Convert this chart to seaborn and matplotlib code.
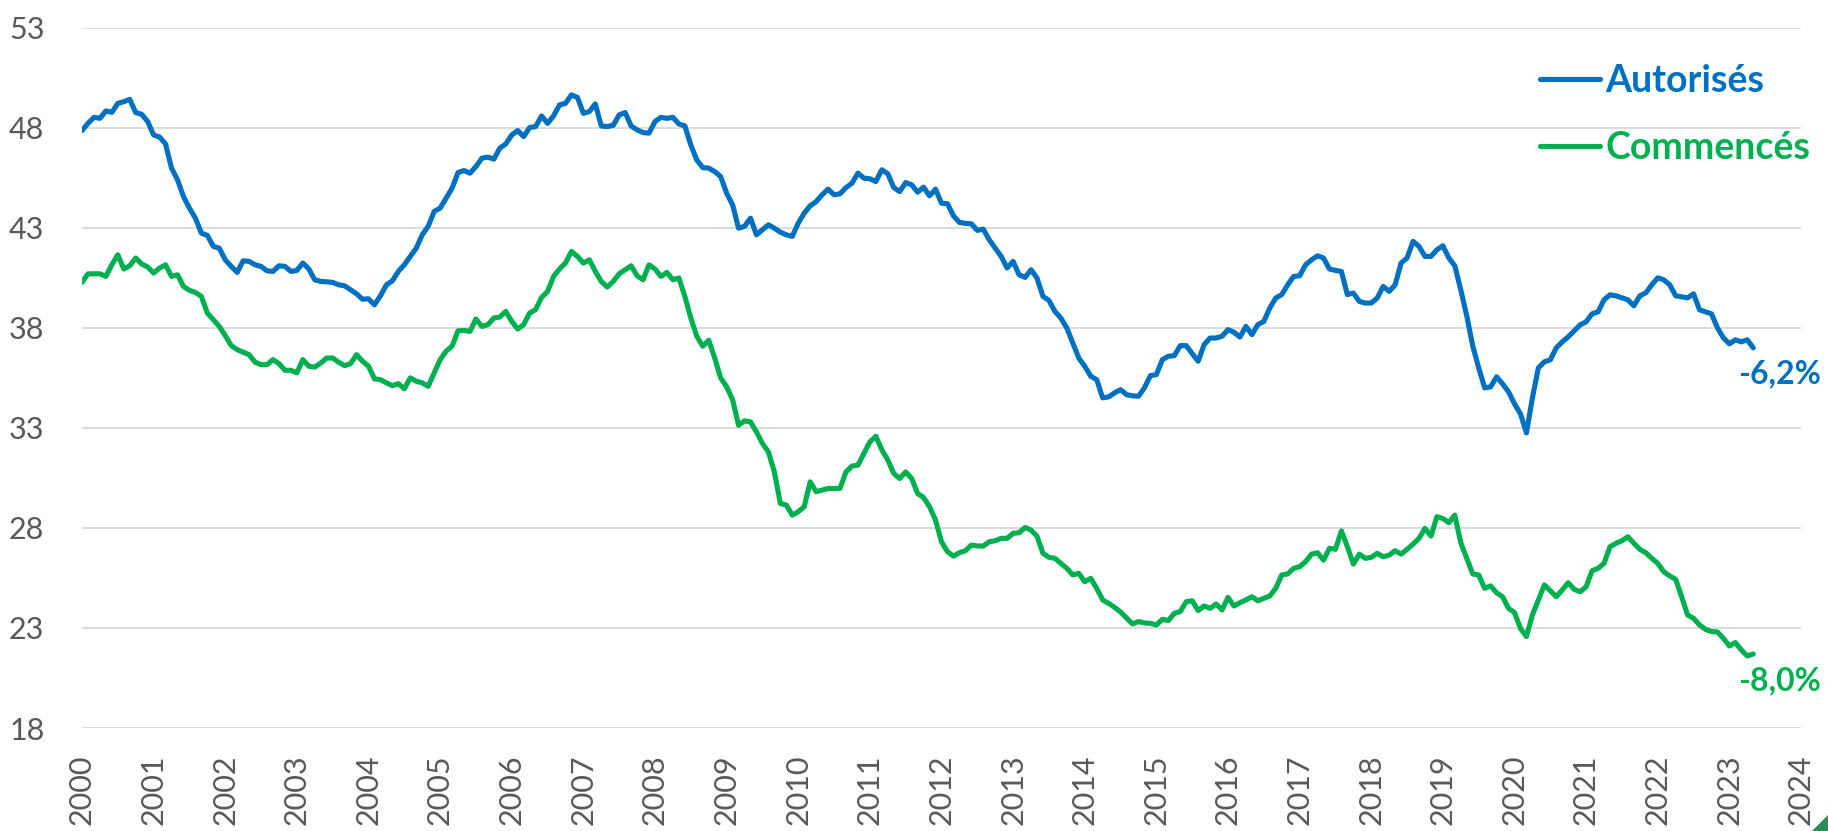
import numpy as np
import pandas as pd
import matplotlib.pyplot as plt
from matplotlib.patches import Polygon
import seaborn as sns

# séries mensuelles (jan. 2000 -> mai 2023), milliers de logements
series_names = ['Autorisés', 'Commencés']
series_colors = ['#0070C0', '#00B050']
change_labels = ['-6,2%', '-8,0%']
start_year = 2000
year_ticks = list(range(2000, 2025))
value_ticks = [18, 23, 28, 33, 38, 43, 48, 53]

autorises = [
    47.86, 48.22, 48.52, 48.47, 48.84, 48.77, 49.22, 49.30, 49.42, 48.76, 48.67, 48.31,  # 2000
    47.64, 47.53, 47.19, 45.98, 45.40, 44.56, 43.98, 43.48, 42.73, 42.62, 42.07, 41.98,  # 2001
    41.40, 41.07, 40.77, 41.35, 41.32, 41.15, 41.07, 40.85, 40.82, 41.10, 41.07, 40.82,  # 2002
    40.87, 41.24, 40.94, 40.40, 40.32, 40.30, 40.27, 40.15, 40.10, 39.90, 39.70, 39.43,  # 2003
    39.45, 39.15, 39.60, 40.15, 40.35, 40.82, 41.15, 41.57, 41.98, 42.65, 43.07, 43.82,  # 2004
    43.98, 44.48, 44.98, 45.76, 45.86, 45.73, 46.06, 46.48, 46.53, 46.43, 46.98, 47.19,  # 2005
    47.64, 47.86, 47.56, 48.01, 48.06, 48.59, 48.22, 48.59, 49.14, 49.22, 49.64, 49.52,  # 2006
    48.72, 48.81, 49.19, 48.09, 48.06, 48.12, 48.64, 48.76, 48.09, 47.89, 47.76, 47.73,  # 2007
    48.31, 48.52, 48.47, 48.52, 48.19, 48.09, 47.14, 46.39, 46.01, 45.98, 45.81, 45.56,  # 2008
    44.73, 44.15, 42.98, 43.07, 43.48, 42.65, 42.90, 43.15, 42.98, 42.78, 42.65, 42.57,  # 2009
    43.23, 43.73, 44.10, 44.31, 44.65, 44.93, 44.65, 44.70, 45.01, 45.23, 45.73, 45.48,  # 2010
    45.45, 45.31, 45.90, 45.70, 45.01, 44.81, 45.26, 45.15, 44.78, 45.03, 44.60, 44.93,  # 2011
    44.23, 44.20, 43.60, 43.27, 43.22, 43.20, 42.87, 42.93, 42.40, 41.98, 41.57, 40.99,  # 2012
    41.32, 40.65, 40.52, 40.90, 40.49, 39.57, 39.37, 38.82, 38.49, 37.99, 37.24, 36.49,  # 2013
    36.08, 35.58, 35.41, 34.50, 34.55, 34.75, 34.91, 34.66, 34.60, 34.58, 35.00, 35.61,  # 2014
    35.66, 36.41, 36.58, 36.61, 37.11, 37.11, 36.71, 36.33, 37.16, 37.49, 37.49, 37.58,  # 2015
    37.91, 37.78, 37.54, 38.07, 37.66, 38.16, 38.32, 38.99, 39.49, 39.66, 40.15, 40.57,  # 2016
    40.60, 41.15, 41.40, 41.60, 41.49, 40.94, 40.87, 40.82, 39.66, 39.74, 39.32, 39.24,  # 2017
    39.24, 39.49, 40.07, 39.82, 40.15, 41.24, 41.49, 42.32, 42.07, 41.57, 41.57, 41.90,  # 2018
    42.10, 41.49, 41.10, 39.90, 38.60, 37.10, 36.00, 35.00, 35.05, 35.55, 35.20, 34.80,  # 2019
    34.20, 33.70, 32.75, 34.50, 36.00, 36.30, 36.40, 37.00, 37.30, 37.55, 37.85, 38.15,  # 2020
    38.30, 38.70, 38.80, 39.40, 39.65, 39.60, 39.50, 39.40, 39.10, 39.60, 39.75, 40.15,  # 2021
    40.50, 40.40, 40.15, 39.60, 39.55, 39.50, 39.70, 38.90, 38.80, 38.70, 38.00, 37.50,  # 2022
    37.20, 37.40, 37.30, 37.40, 37.00,  # 2023
]

commences = [
    40.27, 40.70, 40.70, 40.70, 40.57, 41.15, 41.65, 40.94, 41.10, 41.49, 41.19, 41.04,  # 2000
    40.74, 40.99, 41.15, 40.57, 40.65, 40.07, 39.87, 39.77, 39.57, 38.74, 38.41, 38.07,  # 2001
    37.61, 37.11, 36.91, 36.78, 36.66, 36.28, 36.16, 36.16, 36.41, 36.21, 35.88, 35.88,  # 2002
    35.75, 36.41, 36.08, 36.04, 36.24, 36.49, 36.49, 36.28, 36.11, 36.21, 36.66, 36.33,  # 2003
    36.08, 35.45, 35.41, 35.25, 35.11, 35.21, 34.95, 35.50, 35.33, 35.25, 35.08, 35.75,  # 2004
    36.41, 36.83, 37.08, 37.85, 37.87, 37.82, 38.44, 38.07, 38.16, 38.49, 38.54, 38.82,  # 2005
    38.32, 37.94, 38.16, 38.74, 38.91, 39.52, 39.82, 40.57, 40.94, 41.24, 41.82, 41.57,  # 2006
    41.24, 41.40, 40.82, 40.32, 40.04, 40.32, 40.70, 40.90, 41.10, 40.60, 40.40, 41.15,  # 2007
    40.94, 40.57, 40.77, 40.40, 40.49, 39.57, 38.49, 37.58, 37.08, 37.38, 36.49, 35.50,  # 2008
    35.05, 34.41, 33.13, 33.35, 33.30, 32.80, 32.22, 31.80, 30.80, 29.22, 29.14, 28.64,  # 2009
    28.81, 29.06, 30.30, 29.81, 29.89, 29.97, 29.97, 29.98, 30.80, 31.09, 31.14, 31.72,  # 2010
    32.30, 32.58, 31.90, 31.40, 30.72, 30.47, 30.80, 30.47, 29.72, 29.52, 29.06, 28.39,  # 2011
    27.31, 26.81, 26.59, 26.76, 26.86, 27.14, 27.10, 27.09, 27.31, 27.36, 27.48, 27.48,  # 2012
    27.73, 27.76, 28.02, 27.89, 27.59, 26.73, 26.53, 26.48, 26.23, 25.98, 25.65, 25.73,  # 2013
    25.31, 25.48, 24.98, 24.40, 24.23, 24.03, 23.80, 23.50, 23.20, 23.32, 23.25, 23.23,  # 2014
    23.15, 23.43, 23.37, 23.73, 23.82, 24.31, 24.36, 23.87, 24.10, 23.98, 24.20, 23.90,  # 2015
    24.53, 24.10, 24.26, 24.40, 24.56, 24.36, 24.48, 24.60, 24.98, 25.65, 25.70, 25.98,  # 2016
    26.06, 26.31, 26.69, 26.76, 26.39, 26.98, 26.93, 27.85, 27.06, 26.19, 26.69, 26.48,  # 2017
    26.53, 26.73, 26.56, 26.64, 26.86, 26.69, 26.93, 27.19, 27.48, 27.98, 27.59, 28.56,  # 2018
    28.47, 28.26, 28.64, 27.26, 26.48, 25.70, 25.65, 24.98, 25.10, 24.76, 24.56, 23.98,  # 2019
    23.77, 22.98, 22.57, 23.65, 24.40, 25.15, 24.86, 24.56, 24.90, 25.26, 24.93, 24.81,  # 2020
    25.06, 25.86, 25.98, 26.23, 27.06, 27.23, 27.36, 27.56, 27.23, 26.93, 26.76, 26.48,  # 2021
    26.23, 25.81, 25.60, 25.43, 24.56, 23.65, 23.48, 23.15, 22.93, 22.82, 22.80, 22.48,  # 2022
    22.10, 22.27, 21.90, 21.60, 21.70,  # 2023
]

months = np.arange(len(autorises))
dates = start_year + months / 12
df = pd.DataFrame({
    'date': np.concatenate([dates, dates]),
    'value': autorises + commences,
    'serie': [series_names[0]] * len(autorises) + [series_names[1]] * len(commences),
})

sns.set_theme(style='white')
plt.rcParams['font.family'] = ['Lato', 'DejaVu Sans']

W, H = 1828, 831
fig = plt.figure(figsize=(W / 100, H / 100), dpi=100)
ax = fig.add_axes([82 / W, 1 - 728 / H, (1801 - 82) / W, (728 - 27.7) / H])

sns.lineplot(data=df, x='date', y='value', hue='serie', hue_order=series_names,
             palette=series_colors, linewidth=3.7, errorbar=None, ax=ax,
             solid_joinstyle='round', solid_capstyle='round')

ax.set_xlim(2000, 2024)
ax.set_ylim(18, 53)
ax.set_yticks(value_ticks)
ax.set_xticks(year_ticks)
ax.set_xticklabels([str(y) for y in year_ticks], rotation=90)
ax.tick_params(axis='both', length=0, labelsize=22, labelcolor='#595959')
ax.tick_params(axis='y', pad=27)
ax.tick_params(axis='x', pad=19)
ax.grid(axis='y', color='#D9D9D9', linewidth=1.3)
ax.set_axisbelow(True)
sns.despine(ax=ax, left=True, bottom=True)
ax.set_xlabel('')
ax.set_ylabel('')

# légende en haut à droite, texte coloré
handles, labels = ax.get_legend_handles_labels()
leg = ax.legend(handles, labels, loc='upper left',
                bbox_to_anchor=(1540 / W, 1 - 64 / H), bbox_transform=fig.transFigure,
                frameon=False, fontsize=27, handlelength=1.6, handletextpad=0.15,
                labelspacing=0.87, borderpad=0, borderaxespad=0)
for text, color in zip(leg.get_texts(), series_colors):
    text.set_color(color)
    text.set_fontweight('bold')

# variations en bout de courbe
for values, label, color in zip([autorises, commences], change_labels, series_colors):
    ax.annotate(label, xy=(dates[-1], values[-1]), xytext=(-11, -19),
                textcoords='offset points', ha='left', va='center',
                color=color, fontsize=23, fontweight='bold')

# petit coin vert en bas à droite
fig.patches.append(Polygon([(1 - 16 / W, 0), (1, 0), (1, 16 / H)], closed=True,
                           transform=fig.transFigure, color='#2E8B57'))

fig.savefig('out.png', dpi=100)
